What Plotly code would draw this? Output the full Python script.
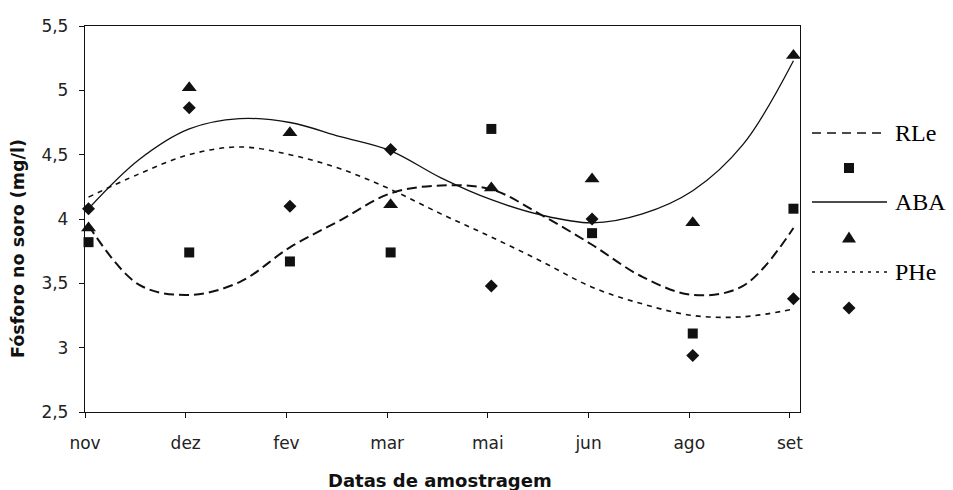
import plotly.graph_objects as go

# ---------------- data ----------------
months = ["nov", "dez", "fev", "mar", "mai", "jun", "ago", "set"]

# observed values (markers)
rle_obs = [3.82, 3.74, 3.67, 3.74, 4.70, 3.89, 3.11, 4.08]   # squares
aba_obs = [3.93, 5.02, 4.67, 4.11, 4.24, 4.31, 3.97, 5.27]   # triangles
phe_obs = [4.08, 4.865, 4.10, 4.54, 3.48, 4.00, 2.94, 3.38]  # diamonds

# trend curves read every half category (nov .. set)
trend_pos = [0, 0.5, 1, 1.5, 2, 2.5, 3, 3.5, 4, 4.5, 5, 5.5, 6, 6.5, 7]
rle_trend = [3.95, 3.49, 3.41, 3.51, 3.78, 3.99, 4.20, 4.26, 4.23, 4.03, 3.80, 3.55, 3.41, 3.48, 3.93]
aba_trend = [4.08, 4.46, 4.70, 4.78, 4.75, 4.64, 4.53, 4.32, 4.15, 4.03, 3.97, 4.04, 4.22, 4.58, 5.23]
phe_trend = [4.17, 4.35, 4.50, 4.56, 4.50, 4.39, 4.23, 4.04, 3.86, 3.67, 3.47, 3.34, 3.25, 3.24, 3.30]

y_ticks = [2.5, 3, 3.5, 4, 4.5, 5, 5.5]
y_ticktext = ["2,5", "3", "3,5", "4", "4,5", "5", "5,5"]

series_names = ["RLe", "ABA", "PHe"]

# ---------------- layout constants ----------------
W, H = 953, 490
L, R, T, B = 85, 153, 26, 78
X_RANGE = [0, 7.1]
Y_RANGE = [2.5, 5.5]
OFFSET = 0.035          # markers/curves sit slightly right of the ticks

PW, PH = W - L - R, H - T - B


def px_to_paper_x(px):
    return (px - L) / PW


def px_to_paper_y(py):
    return (H - B - py) / PH


INK = "#111111"
line_styles = {
    "RLe": dict(color=INK, width=2.0, dash="10px,5px"),
    "ABA": dict(color=INK, width=1.3, dash="solid"),
    "PHe": dict(color=INK, width=1.6, dash="5px,5px"),
}
legend_line_styles = {
    "RLe": dict(color=INK, width=1.6, dash="9px,6px"),
    "ABA": dict(color=INK, width=1.3, dash="solid"),
    "PHe": dict(color=INK, width=1.6, dash="3px,5px"),
}
marker_styles = {
    "RLe": dict(symbol="square", size=10, color=INK, line=dict(width=0)),
    "ABA": dict(symbol="triangle-up", size=13, color=INK, line=dict(width=0)),
    "PHe": dict(symbol="diamond", size=10, color=INK, line=dict(width=0)),
}
# legend symbol outlines, in pixels around their anchor (y up)
legend_symbol_paths = {
    "RLe": "M-5,-5 L5,-5 L5,5 L-5,5 Z",
    "ABA": "M-7,-4.5 L7,-4.5 L0,6.5 Z",
    "PHe": "M0,-6.5 L6.5,0 L0,6.5 L-6.5,0 Z",
}

obs = {"RLe": rle_obs, "ABA": aba_obs, "PHe": phe_obs}
trend = {"RLe": rle_trend, "ABA": aba_trend, "PHe": phe_trend}

fig = go.Figure()

xs_obs = [i + OFFSET for i in range(len(months))]
xs_trend = [p + OFFSET for p in trend_pos]

for name in series_names:
    fig.add_trace(go.Scatter(
        x=xs_trend, y=trend[name], mode="lines",
        line=dict(shape="spline", smoothing=1.0, **line_styles[name]),
        hoverinfo="skip", showlegend=False, cliponaxis=False,
    ))

for name in series_names:
    fig.add_trace(go.Scatter(
        x=xs_obs, y=obs[name], mode="markers", name=name,
        marker=marker_styles[name], showlegend=False, cliponaxis=False,
    ))

# ---------------- hand-made legend (right side) ----------------
legend_line_x0, legend_line_x1 = 812, 887
legend_text_x = 893
legend_marker_x = 849
legend_rows = {"RLe": (133, 168), "ABA": (202, 238), "PHe": (272, 308)}

shapes = []
annotations = []
for name in series_names:
    ly, my = legend_rows[name]
    shapes.append(dict(
        type="line", xref="paper", yref="paper",
        x0=px_to_paper_x(legend_line_x0), x1=px_to_paper_x(legend_line_x1),
        y0=px_to_paper_y(ly), y1=px_to_paper_y(ly),
        line=legend_line_styles[name],
    ))
    shapes.append(dict(
        type="path", xref="paper", yref="paper",
        xsizemode="pixel", ysizemode="pixel",
        xanchor=px_to_paper_x(legend_marker_x), yanchor=px_to_paper_y(my),
        path=legend_symbol_paths[name],
        fillcolor=INK, line=dict(width=0),
    ))
    annotations.append(dict(
        text=name, xref="paper", yref="paper",
        x=px_to_paper_x(legend_text_x), y=px_to_paper_y(ly),
        xanchor="left", yanchor="middle", showarrow=False,
        font=dict(family="Liberation Serif", size=24, color="#000000"),
    ))

# axis titles
annotations.append(dict(
    text="<b>Fósforo no soro (mg/l)</b>", xref="paper", yref="paper",
    x=px_to_paper_x(18), y=px_to_paper_y(249), textangle=-90,
    xanchor="center", yanchor="middle", showarrow=False,
    font=dict(family="DejaVu Sans", size=17.5, color=INK),
))
annotations.append(dict(
    text="<b>Datas de amostragem</b>", xref="paper", yref="paper",
    x=px_to_paper_x(440), y=px_to_paper_y(480),
    xanchor="center", yanchor="middle", showarrow=False,
    font=dict(family="DejaVu Sans", size=18, color=INK),
))

tick_font = dict(family="DejaVu Sans", size=17, color="#222222")

fig.update_layout(
    width=W, height=H,
    margin=dict(l=L, r=R, t=T, b=B, pad=0),
    paper_bgcolor="white", plot_bgcolor="white",
    showlegend=False,
    shapes=shapes, annotations=annotations,
    xaxis=dict(
        range=X_RANGE, tickmode="array", tickvals=list(range(len(months))),
        ticktext=months, ticks="outside", ticklen=5, tickwidth=1.2,
        tickcolor=INK, showline=True, linecolor=INK, linewidth=1.3,
        mirror=True, showgrid=False, zeroline=False, tickfont=tick_font,
        ticklabelstandoff=10, fixedrange=True,
    ),
    yaxis=dict(
        range=Y_RANGE, tickmode="array", tickvals=y_ticks, ticktext=y_ticktext,
        ticks="outside", ticklen=5, tickwidth=1.2, tickcolor=INK,
        showline=True, linecolor=INK, linewidth=1.3, mirror=True,
        showgrid=False, zeroline=False, tickfont=tick_font,
        ticklabelstandoff=7, fixedrange=True,
    ),
    xaxis2=dict(
        overlaying="x", anchor="y", side="bottom", range=X_RANGE,
        tickmode="array", tickvals=list(range(len(months))), ticks="inside",
        ticklen=4, tickwidth=1.2, tickcolor=INK, showticklabels=False,
        showline=False, showgrid=False, zeroline=False, fixedrange=True,
    ),
    yaxis2=dict(
        overlaying="y", anchor="x", side="left", range=Y_RANGE,
        tickmode="array", tickvals=y_ticks, ticks="inside",
        ticklen=4, tickwidth=1.2, tickcolor=INK, showticklabels=False,
        showline=False, showgrid=False, zeroline=False, fixedrange=True,
    ),
)

fig.write_html("out.html")
